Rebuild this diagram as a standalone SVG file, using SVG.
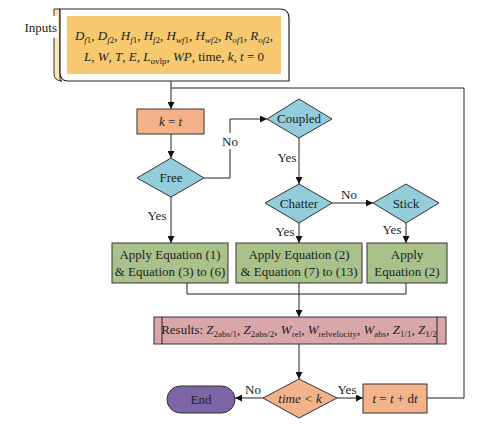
<svg xmlns="http://www.w3.org/2000/svg" width="493" height="425" viewBox="0 0 493 425">
<style>
text{font-family:"Liberation Serif","Times New Roman",serif;font-size:13px;fill:#222}
.i{font-style:italic}
.s{font-size:9px}
.dia{fill:#93CCDB;stroke:#333;stroke-width:1}
.line{fill:none;stroke:#222;stroke-width:1}
.box{stroke:#333;stroke-width:1}
.lbl{fill:#fff}
</style>
<defs>
<marker id="ah" viewBox="0 0 10 10" refX="10" refY="5" markerWidth="7" markerHeight="7" orient="auto" markerUnits="userSpaceOnUse">
<path d="M0,0 L10,5 L0,10 Z" fill="#111"/>
</marker>
</defs>
<rect width="493" height="425" fill="#fff"/>

<g id="connectors">
<path class="line" d="M171,81 V109" marker-end="url(#ah)"/>
<path class="line" d="M427,398 H464 V88 H171"/>
<path class="line" d="M171,134 V158" marker-end="url(#ah)"/>
<path class="line" d="M204,178 H230 V119 H267" marker-end="url(#ah)"/>
<path class="line" d="M299,138 V184" marker-end="url(#ah)"/>
<path class="line" d="M332,203 H373" marker-end="url(#ah)"/>
<path class="line" d="M171,197 V243" marker-end="url(#ah)"/>
<path class="line" d="M299,223 V243" marker-end="url(#ah)"/>
<path class="line" d="M406,223 V243" marker-end="url(#ah)"/>
<path class="line" d="M187,283 V294 H406 V283 M299,283 V294"/>
<path class="line" d="M299,294 V317" marker-end="url(#ah)"/>
<path class="line" d="M299,344 V379" marker-end="url(#ah)"/>
<path class="line" d="M263,398 H235" marker-end="url(#ah)"/>
<path class="line" d="M337,398 H363" marker-end="url(#ah)"/>
<rect class="lbl" x="221" y="133" width="18" height="16"/>
<text x="230" y="146" text-anchor="middle">No</text>
<text x="287" y="162" text-anchor="middle">Yes</text>
<text x="349" y="199" text-anchor="middle">No</text>
<text x="157" y="220" text-anchor="middle">Yes</text>
<text x="285" y="236" text-anchor="middle">Yes</text>
<text x="392" y="234" text-anchor="middle">Yes</text>
<text x="253" y="394" text-anchor="middle">No</text>
<text x="347" y="394" text-anchor="middle">Yes</text>
</g>

<g id="inputs">
<path d="M54,9 H60 V81 H62 Q54,81 54,73 Z" fill="#FBE3BC" stroke="#333" stroke-width="1"/>
<rect x="18" y="16" width="40" height="22" fill="#fff"/>
<text x="57" y="32" text-anchor="end">Inputs</text>
<path d="M60,9 H280 Q289,9 289,18 V81 H68 Q60,81 60,73 Z" fill="#fff" stroke="#222" stroke-width="1.2"/>
<rect x="67" y="16" width="214" height="58" fill="#F6C96F"/>
<text x="174" y="40" text-anchor="middle"><tspan class="i">D</tspan><tspan class="s i" baseline-shift="-3">f</tspan><tspan class="s" baseline-shift="-3">1</tspan>, <tspan class="i">D</tspan><tspan class="s i" baseline-shift="-3">f</tspan><tspan class="s" baseline-shift="-3">2</tspan>, <tspan class="i">H</tspan><tspan class="s i" baseline-shift="-3">f</tspan><tspan class="s" baseline-shift="-3">1</tspan>, <tspan class="i">H</tspan><tspan class="s i" baseline-shift="-3">f</tspan><tspan class="s" baseline-shift="-3">2</tspan>, <tspan class="i">H</tspan><tspan class="s i" baseline-shift="-3">wf</tspan><tspan class="s" baseline-shift="-3">1</tspan>, <tspan class="i">H</tspan><tspan class="s i" baseline-shift="-3">wf</tspan><tspan class="s" baseline-shift="-3">2</tspan>, <tspan class="i">R</tspan><tspan class="s i" baseline-shift="-3">of</tspan><tspan class="s" baseline-shift="-3">1</tspan>, <tspan class="i">R</tspan><tspan class="s i" baseline-shift="-3">of</tspan><tspan class="s" baseline-shift="-3">2</tspan>,</text>
<text x="174" y="61" text-anchor="middle"><tspan class="i">L</tspan>, <tspan class="i">W</tspan>, <tspan class="i">T</tspan>, <tspan class="i">E</tspan>, <tspan class="i">L</tspan><tspan class="s" baseline-shift="-3">ovlp</tspan>, <tspan class="i">WP</tspan>, time, <tspan class="i">k</tspan>, <tspan class="i">t</tspan> = 0</text>
</g>

<g id="k-eq-t">
<rect class="box" x="137" y="109" width="67" height="25" fill="#F4B28B"/>
<text x="170.5" y="126" text-anchor="middle"><tspan class="i">k</tspan> = <tspan class="i">t</tspan></text>
</g>

<g id="free">
<path class="dia" d="M171,158 L204,178 L171,197 L137,178 Z"/>
<text x="171" y="182" text-anchor="middle">Free</text>
</g>

<g id="coupled">
<path class="dia" d="M299,99 L332,119 L299,138 L267,119 Z"/>
<text x="299" y="123" text-anchor="middle">Coupled</text>
</g>

<g id="chatter">
<path class="dia" d="M299,184 L332,203 L299,223 L265,203 Z"/>
<text x="299" y="208" text-anchor="middle">Chatter</text>
</g>

<g id="stick">
<path class="dia" d="M406,184 L439,203 L406,223 L373,203 Z"/>
<text x="406" y="208" text-anchor="middle">Stick</text>
</g>

<g id="apply1">
<rect class="box" x="112" y="243" width="116" height="40" fill="#AAC18C"/>
<text x="170" y="259" text-anchor="middle">Apply Equation (1)</text>
<text x="170" y="276" text-anchor="middle">&amp; Equation (3) to (6)</text>
</g>

<g id="apply2">
<rect class="box" x="236" y="243" width="126" height="40" fill="#AAC18C"/>
<text x="299" y="259" text-anchor="middle">Apply Equation (2)</text>
<text x="299" y="276" text-anchor="middle">&amp; Equation (7) to (13)</text>
</g>

<g id="apply3">
<rect class="box" x="367" y="243" width="80" height="40" fill="#AAC18C"/>
<text x="407" y="259" text-anchor="middle">Apply</text>
<text x="407" y="276" text-anchor="middle">Equation (2)</text>
</g>

<g id="results">
<rect class="box" x="154" y="317" width="292" height="27" fill="#D9A7A9"/>
<path class="line" d="M162,317 V344 M437,317 V344"/>
<text x="299" y="334" text-anchor="middle">Results: <tspan class="i">Z</tspan><tspan class="s" baseline-shift="-3">2abs/1</tspan>, <tspan class="i">Z</tspan><tspan class="s" baseline-shift="-3">2abs/2</tspan>, <tspan class="i">W</tspan><tspan class="s" baseline-shift="-3">rel</tspan>, <tspan class="i">W</tspan><tspan class="s" baseline-shift="-3">relvelocity</tspan>, <tspan class="i">W</tspan><tspan class="s" baseline-shift="-3">abs</tspan>, <tspan class="i">Z</tspan><tspan class="s" baseline-shift="-3">1/1</tspan>, <tspan class="i">Z</tspan><tspan class="s" baseline-shift="-3">1/2</tspan></text>
</g>

<g id="time-lt-k">
<path d="M299,379 L337,398 L299,418 L263,398 Z" fill="#F4B28B" stroke="#333" stroke-width="1"/>
<text x="300" y="403" text-anchor="middle" class="i">time &lt; k</text>
</g>

<g id="end">
<rect class="box" x="167" y="386" width="68" height="27" rx="13.5" fill="#7D66A5"/>
<text x="201" y="404" text-anchor="middle">End</text>
</g>

<g id="t-update">
<rect class="box" x="363" y="384" width="64" height="29" fill="#F4B28B"/>
<text x="395" y="403" text-anchor="middle"><tspan class="i">t</tspan> = <tspan class="i">t</tspan> + d<tspan class="i">t</tspan></text>
</g>
</svg>
